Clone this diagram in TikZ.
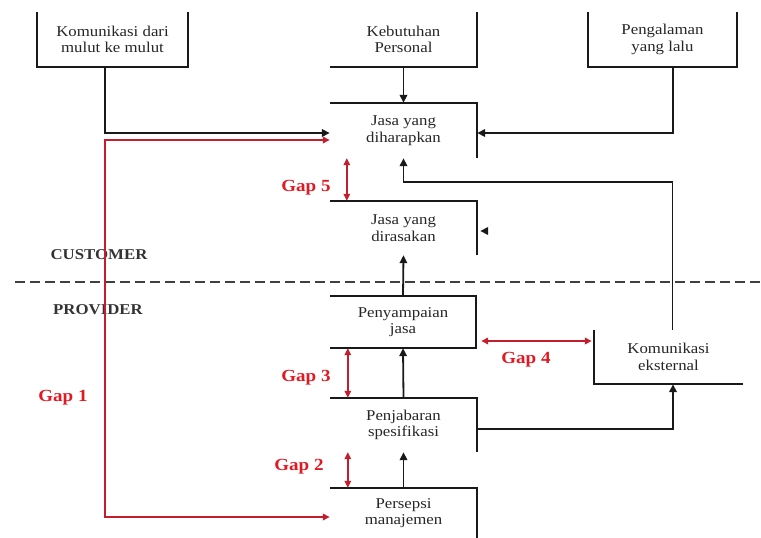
\documentclass[tikz,border=0pt]{standalone}
\usepackage{fontspec}
\setmainfont{Liberation Serif}
\newfontfamily\boxfont[FakeStretch=1.12]{Liberation Serif}
\usetikzlibrary{arrows.meta,calc}
\definecolor{gapred}{RGB}{225,25,35}
\definecolor{gapline}{RGB}{195,30,45}
\begin{document}
\begin{tikzpicture}[x=1pt,y=-1pt,
  box/.style={minimum width=#1, minimum height=55pt, inner sep=0pt, align=center,
              font=\boxfont\fontsize{15}{16.5}\selectfont, text=black!85},
  box/.default=147pt,
  edge/.style={line width=1.8pt, black!90},
  arr/.style={edge, -{Triangle[length=8pt,width=7.5pt]}},
  gaparr/.style={line width=1.8pt, gapline, {Triangle[length=7pt,width=6.5pt]}-{Triangle[length=7pt,width=6.5pt]}},
  gaplbl/.style={text=gapred, font=\boxfont\fontsize{17}{20}\selectfont\bfseries},
  role/.style={text=black!80, font=\boxfont\fontsize{15}{18}\selectfont\bfseries},
  dashline/.style={line width=1.6pt, black!75, dash pattern=on 10pt off 5pt}]
\useasboundingbox (0,0) rectangle (761,538);

% boxes (text nodes)
\node[box=151pt] (kdm) at (112.5,39.5) {Komunikasi dari\\mulut ke mulut};
\node[box] (keb) at (403.5,39.5) {Kebutuhan\\Personal};
\node[box=149pt] (pen) at (662.5,39.5) {Pengalaman\\yang lalu};
\node[box] (jdh) at (403.5,130.5) {Jasa yang\\diharapkan};
\node[box, minimum height=54pt] (jdr) at (403.5,228) {Jasa yang\\dirasakan};
\node[box=146pt, minimum height=52pt] (pjs) at (403,322) {Penyampaian\\jasa};
\node[box=149pt, minimum height=54pt] (kek) at (668.5,357) {Komunikasi\\eksternal};
\node[box, minimum height=54pt] (psp) at (403.5,425) {Penjabaran\\spesifikasi};
\node[box, minimum height=50pt] (pm) at (403.5,513) {Persepsi\\manajemen};

% open box outlines
\draw[edge] (kdm.north west) -- (kdm.south west) -- (kdm.south east) -- (kdm.north east);
\draw[edge] (keb.south west) -- (keb.south east) -- (keb.north east);
\draw[edge] (pen.north west) -- (pen.south west) -- (pen.south east) -- (pen.north east);
\draw[edge] (jdh.north west) -- (jdh.north east) -- (jdh.south east);
\draw[edge] (jdr.north west) -- (jdr.north east) -- (jdr.south east);
\draw[edge] (pjs.north west) -- (pjs.north east) -- (pjs.south east) -- (pjs.south west);
\draw[edge] (kek.north west) -- (kek.south west) -- (kek.south east);
\draw[edge] (psp.north west) -- (psp.north east) -- (psp.south east);
\draw[edge] (pm.north west) -- (pm.north east) -- (pm.south east);

% divider
\coordinate (dl) at (15,282);
\coordinate (dr) at (761,282);
\draw[dashline] (dl) -- (dr);
\node[role] (cust) at (99,255) {CUSTOMER};
\node[role] (prov) at (98,310) {PROVIDER};

% black connectors
\draw[arr] ([xshift=-7.5pt]kdm.south) |- ([yshift=-2.5pt]jdh.west);
\draw[arr] (keb.south) -- (jdh.north);
\draw[arr] ([xshift=10.5pt]pen.south) |- ([yshift=-2.5pt]jdh.east);
\coordinate (kturn) at (403.5,182);
\draw[arr] ([xshift=4pt]kek.north) |- (kturn) -- (jdh.south);
\draw[arr] ([xshift=10pt,yshift=-3pt]jdr.east) -- ([xshift=3pt,yshift=-3pt]jdr.east);
\draw[arr] (pjs.north) -- (jdr.south);
\draw[arr] (psp.north) -- (pjs.south);
\draw[arr] (pm.north) -- (psp.south);
\draw[arr] ([yshift=-4pt]psp.east) -| ([xshift=4.5pt]kek.south);

% gaps
\coordinate (g1) at (105,517);
\draw[gaparr] ([yshift=-9.5pt]jdh.west) -| (g1) -- ([yshift=-4pt]pm.west);
\draw[gaparr] ([xshift=17pt]jdh.south west) -- ([xshift=17pt]jdr.north west);
\draw[gaparr] ([xshift=18pt]pjs.south west) -- ([xshift=18pt]psp.north west);
\draw[gaparr] ([xshift=18pt]psp.south west) -- ([xshift=18pt]pm.north west);
\draw[gaparr] ([xshift=5pt,yshift=-19pt]pjs.east) -- ([xshift=-2pt,yshift=16pt]kek.west);

\node[gaplbl] (gap1) at (63,398) {Gap 1};
\node[gaplbl] (gap2) at (299,467) {Gap 2};
\node[gaplbl] (gap3) at (306,378) {Gap 3};
\node[gaplbl] (gap4) at (526,360) {Gap 4};
\node[gaplbl] (gap5) at (306,188) {Gap 5};
\end{tikzpicture}
\end{document}
